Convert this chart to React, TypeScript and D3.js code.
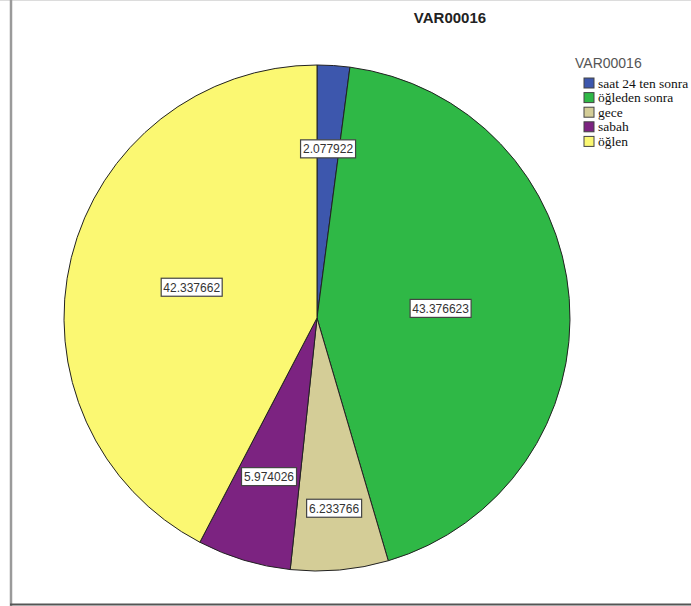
import React from "react";
import * as d3 from "d3";

const categories = ["saat 24 ten sonra", "öğleden sonra", "gece", "sabah", "öğlen"];
const values = [2.077922, 43.376623, 6.233766, 5.974026, 42.337662];
const labels = ["2.077922", "43.376623", "6.233766", "5.974026", "42.337662"];
const colors = ["#3d57ad", "#2fb846", "#d4cd97", "#7c2381", "#fbf872"];
const title = "VAR00016";

// layout: label distance as fraction of radius (per slice)
const labelRadiusFrac = [0.67, 0.49, 0.755, 0.655, 0.51];

const W = 691;
const H = 606;
const cx = 317;
const cy = 318;
const R = 253;

export default function App() {
  const pie = d3.pie<number>().sort(null).value((d) => d)(values);
  const arc = d3.arc<d3.PieArcDatum<number>>().innerRadius(0).outerRadius(R);
  return (
    <svg
      width={W}
      height={H}
      style={{ position: "absolute", left: 0, top: 0, background: "#fff" }}
    >
      <line x1={0} y1={0.5} x2={W} y2={0.5} stroke="#dcdcdc" strokeWidth={1} />
      <line x1={11} y1={0} x2={11} y2={H} stroke="#9a9a9a" strokeWidth={2.5} />
      <line x1={10} y1={604.5} x2={W} y2={604.5} stroke="#555" strokeWidth={2} />
      <text
        x={450}
        y={23}
        textAnchor="middle"
        style={{ fontFamily: "'Liberation Sans', Arial, sans-serif", fontWeight: "bold", fontSize: 15 }}
        fill="#222"
      >
        {title}
      </text>
      <g transform={`translate(${cx},${cy})`}>
        {pie.map((p, i) => (
          <path key={i} d={arc(p) || ""} fill={colors[i]} stroke="#222" strokeWidth={1} />
        ))}
        {pie.map((p, i) => {
          const a = (p.startAngle + p.endAngle) / 2;
          const r = R * labelRadiusFrac[i];
          const x = Math.sin(a) * r;
          const y = -Math.cos(a) * r;
          const bw = labels[i].length === 9 ? 61 : 55;
          const bh = 18;
          return (
            <g key={"l" + i} transform={`translate(${x},${y})`}>
              <rect
                x={-bw / 2}
                y={-bh / 2}
                width={bw}
                height={bh}
                fill="#fff"
                stroke="#444"
                strokeWidth={1.2}
              />
              <text
                x={0}
                y={4.5}
                textAnchor="middle"
                style={{ fontFamily: "'Liberation Sans', Arial, sans-serif", fontSize: 12 }}
                fill="#333"
              >
                {labels[i]}
              </text>
            </g>
          );
        })}
      </g>
      <text
        x={575}
        y={68}
        style={{ fontFamily: "'Liberation Sans', Arial, sans-serif", fontSize: 14 }}
        fill="#555"
      >
        {title}
      </text>
      {categories.map((c, i) => (
        <g key={"lg" + i} transform={`translate(584,${78 + i * 14.6})`}>
          <rect x={0} y={0} width={10} height={10} fill={colors[i]} stroke="#444" strokeWidth={1} />
          <text
            x={14}
            y={9.5}
            style={{ fontFamily: "'Liberation Serif', 'DejaVu Serif', 'Times New Roman', serif", fontSize: 13.5 }}
            fill="#111"
          >
            {c}
          </text>
        </g>
      ))}
    </svg>
  );
}
